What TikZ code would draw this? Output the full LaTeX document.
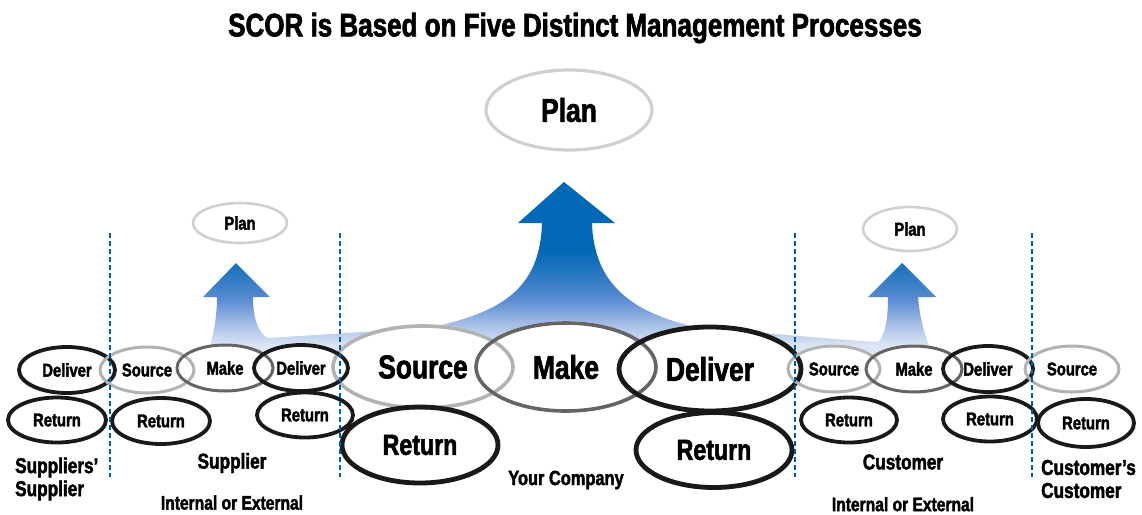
\documentclass[tikz,border=0pt]{standalone}
\usepackage{fontspec}
\setmainfont{Liberation Sans}[FakeStretch=0.8,BoldFeatures={FakeBold=2}]
\usepackage{tikz}
\usetikzlibrary{positioning,shapes.geometric,calc,backgrounds}

\definecolor{flowdark}{RGB}{0,104,181}
\definecolor{flowdeep}{RGB}{43,120,194}
\definecolor{flowmid}{RGB}{90,139,210}
\definecolor{flowsoft}{RGB}{157,184,228}
\definecolor{flowlight}{RGB}{220,230,245}
\definecolor{ringlight}{RGB}{178,178,178}
\definecolor{ringplan}{RGB}{205,209,209}
\definecolor{ringdark}{RGB}{100,100,100}
\definecolor{ringblack}{RGB}{25,25,25}
\definecolor{divider}{RGB}{0,92,170}

\pgfdeclareverticalshading{scorflow}{100bp}{color(0bp)=(flowlight); color(29bp)=(flowlight); color(36bp)=(flowsoft); color(42bp)=(flowmid); color(49bp)=(flowdeep); color(56bp)=(flowdark); color(100bp)=(flowdark)}

\begin{document}
\begin{tikzpicture}[
  x=1pt,y=-1pt,
  every node/.style={font=\bfseries},
  small/.style={ellipse,inner sep=0pt,minimum width=96,minimum height=46,font=\fontsize{18.5}{20}\selectfont\bfseries},
  big/.style={ellipse,inner sep=0pt,minimum width=180,minimum height=82,font=\fontsize{33}{36}\selectfont\bfseries},
  pale/.style={draw=ringlight,line width=3},
  mid/.style={draw=ringdark,line width=3},
  dark/.style={draw=ringblack,line width=3.8},
  plans/.style={draw=ringplan,line width=2.6},
  party/.style={font=\fontsize{21.5}{23}\selectfont\bfseries,align=left,inner sep=1pt},
  scope/.style={font=\fontsize{19.5}{20}\selectfont\bfseries,inner sep=1pt},
]
\useasboundingbox (0,0) rectangle (1142,514);

\node (title) at (575,28) {\fontsize{32.5}{34}\selectfont SCOR is Based on Five Distinct Management Processes};

% your company
\node (plan) [big,plans,line width=3.2,minimum width=166,minimum height=80] at (569,110) {Plan};
\node (src) [big,pale,line width=3.6] at (423,367) {Source};
\node (make) [big,mid,line width=3.6,minimum height=88] at (566,367) {Make};
\node (del) [big,dark,line width=4.8,minimum width=182,minimum height=84] at (710,369) {Deliver};
\node (srcret) [big,dark,line width=4.8,minimum width=156,minimum height=76,font=\fontsize{29}{32}\selectfont\bfseries] at (420,445) {Return};
\node (delret) [big,dark,line width=4.8,minimum width=156,minimum height=75,font=\fontsize{29}{32}\selectfont\bfseries] at (714,450) {Return};

% suppliers' supplier
\node (ssdel) [small,dark] at (67,370) {Deliver};
\node (ssret) [small,dark,minimum width=98,minimum height=45] at (57,420) {Return};

% supplier
\node (supplan) [small,plans,minimum width=94,minimum height=40] at (240,223) {Plan};
\node (supsrc) [small,pale,minimum width=94] at (147,370) {Source};
\node (supmake) [small,mid] at (225,368) {Make};
\node (supdel) [small,dark,minimum width=94] at (301,368) {Deliver};
\node (supsrcret) [small,dark,minimum width=98] at (161,421) {Return};
\node (supdelret) [small,dark,minimum height=45] at (305,415) {Return};

% customer
\node (cusplan) [small,plans,minimum width=94,minimum height=44] at (910,229) {Plan};
\node (cussrc) [small,pale,minimum width=92] at (834,369) {Source};
\node (cusmake) [small,mid] at (914,369) {Make};
\node (cusdel) [small,dark,minimum width=90] at (988,369) {Deliver};
\node (cussrcret) [small,dark,minimum height=45] at (849,420) {Return};
\node (cusdelret) [small,dark,minimum width=94,minimum height=45] at (990,419) {Return};

% customer's customer
\node (ccsrc) [small,pale,minimum width=94] at (1072,369) {Source};
\node (ccret) [small,dark,minimum height=48] at (1086,423) {Return};

% labels
\node (sslabel) [party,anchor=west] at (14,479) {Suppliers'\\Supplier};
\node (suplabel) [party] at (232,463) {Supplier};
\node (supscope) [scope,below=20pt of suplabel] {Internal or External};
\node (ourlabel) [party,font=\fontsize{20.5}{22}\selectfont\bfseries] at (566,480) {Your Company};
\node (cuslabel) [party] at (903,462) {Customer};
\node (cusscope) [scope,below=25pt of cuslabel] {Internal or External};
\node (cclabel) [party,anchor=west] at (1040,479) {Customer's\\Customer};

% dividers
\foreach \x in {110,340,795,1032}
  \draw[divider,line width=2,dash pattern=on 5pt off 3pt] (\x,233) -- (\x,477);

\begin{pgfonlayer}{background}
% flow of the plan arrows
\path[shading=scorflow]
  (205,360) .. controls (213,340) and (217,318) .. (217,297)
  -- (203,297) -- (236,263) -- (270,297) -- (253,297)
  .. controls (253,318) and (258,333) .. (268,338)
  .. controls (330,334) and (400,330) .. (433,327)
  .. controls (500,312) and (540,290) .. (542,223)
  -- (518,223) -- (564,182) -- (615,223) -- (592,223)
  .. controls (594,290) and (640,315) .. (700,328)
  .. controls (780,334) and (840,340) .. (878,342)
  .. controls (886,335) and (888,315) .. (888,297)
  -- (868,297) -- (902,263) -- (936,297) -- (918,297)
  .. controls (920,320) and (925,338) .. (935,360) -- cycle;
\foreach \k in {src,make,del,srcret,delret,ssdel,ssret,supsrc,supmake,supdel,supsrcret,supdelret,cussrc,cusmake,cusdel,cussrcret,cusdelret,ccsrc,ccret}
  \path let \p1=($(\k.east)-(\k.center)$), \p2=($(\k.north)-(\k.center)$) in
    [fill=white] (\k.center) ellipse [x radius=\x1, y radius={abs(\y2)}];
\end{pgfonlayer}
\end{tikzpicture}
\end{document}
